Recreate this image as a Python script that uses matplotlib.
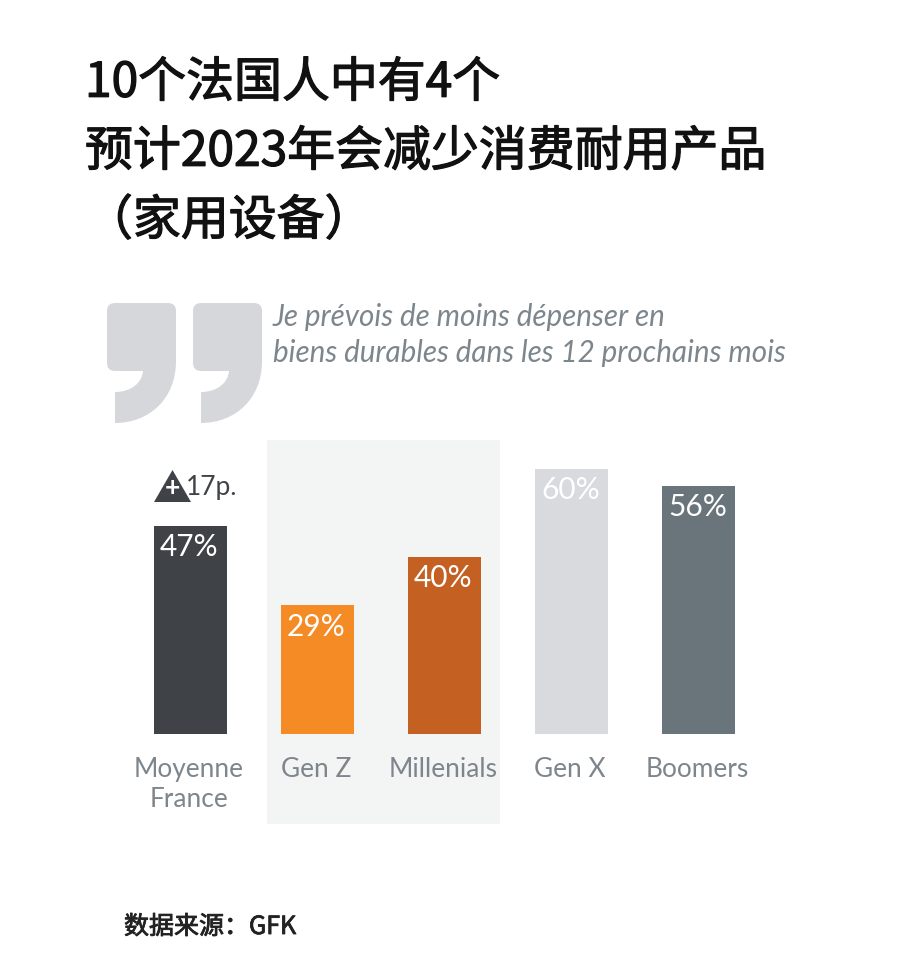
import matplotlib
matplotlib.use("Agg")
import matplotlib.pyplot as plt
import matplotlib.patches as mpatches
import matplotlib.patheffects as pe
from matplotlib.path import Path

plt.rcParams['font.family'] = ['Noto Sans CJK SC', 'DejaVu Sans']

# data
CATEGORIES = ["Moyenne\nFrance", "Gen Z", "Millenials", "Gen X", "Boomers"]
VALUES = [47, 29, 40, 60, 56]
BAR_COLORS = ["#3f4347", "#f58b25", "#c46022", "#d8dadd", "#6a747b"]
TITLE_LINES = ["10个法国人中有4个", "预计2023年会减少消费耐用产品", "（家用设备）"]
QUOTE_LINES = ["Je prévois de moins dépenser en", "biens durables dans les 12 prochains mois"]
SOURCE = "数据来源：GFK"

W, H = 900, 979
fig = plt.figure(figsize=(W / 100, H / 100), dpi=100, facecolor="white")

# full-figure overlay in pixel coords for text and decorations
bg = fig.add_axes([0, 0, 1, 1])
bg.set_xlim(0, W)
bg.set_ylim(H, 0)
bg.axis("off")

bg.add_patch(mpatches.Rectangle((267, 441), 233, 384, fc="#f3f4f4", ec="none"))

# the reference weight sits between regular and bold, so thicken regular a bit
for y, line in zip([84, 153, 222], TITLE_LINES):
    bg.text(85, y, line, fontsize=34.5, color="#111111", va="center", ha="left",
            path_effects=[pe.withStroke(linewidth=0.9, foreground="#111111")])


def quote_mark(x0):
    # one closing quote, rounded block with a curved tail
    verts = [
        (x0 + 8, 304), (x0 + 61, 304), (x0 + 69, 304), (x0 + 69, 312),
        (x0 + 69, 362), (x0 + 69, 400), (x0 + 42, 424), (x0 + 8, 424),
        (x0 + 8, 393), (x0 + 24, 393), (x0 + 35, 384), (x0 + 36, 372),
        (x0 + 8, 372), (x0, 372), (x0, 364),
        (x0, 312), (x0, 304), (x0 + 8, 304),
    ]
    codes = [
        Path.MOVETO, Path.LINETO, Path.CURVE3, Path.CURVE3,
        Path.LINETO, Path.CURVE4, Path.CURVE4, Path.CURVE4,
        Path.LINETO, Path.CURVE4, Path.CURVE4, Path.CURVE4,
        Path.LINETO, Path.CURVE3, Path.CURVE3,
        Path.LINETO, Path.CURVE3, Path.CURVE3,
    ]
    bg.add_patch(mpatches.PathPatch(Path(verts, codes), fc="#d6d7da", ec="none"))


quote_mark(107)
quote_mark(193)

for y, line in zip([317, 353], QUOTE_LINES):
    bg.text(273, y, line, family="Lato", fontsize=21.3, style="italic", color="#7d868c", va="center", ha="left")

bg.text(124, 928, SOURCE, fontsize=18, color="#222222", va="center", ha="left",
        path_effects=[pe.withStroke(linewidth=0.6, foreground="#222222")])

# bar chart; y scale: 60% -> 265 px tall, baseline at y=734
ax = fig.add_axes([135.6 / W, 1 - 734.5 / H, 614.5 / W, 265 / H])
ax.patch.set_alpha(0)
xs = list(range(len(VALUES)))
bars = ax.bar(xs, VALUES, width=0.575, color=BAR_COLORS)
ax.set_xlim(-0.43, 4.41)
ax.set_ylim(0, 60)
ax.axis("off")

for x, v in zip(xs, VALUES):
    ax.annotate(f"{v}%", (x, v), xytext=(-0.5, -4.5), textcoords="offset points", ha="center", va="top",
                family="Lato", fontsize=21.5, color="white")

for x, name in zip(xs, CATEGORIES):
    ax.annotate(name, (x, 0), xytext=(-0.8, -16.5), textcoords="offset points", ha="center", va="top",
                family="Lato", fontsize=18.9, color="#7d868c", linespacing=1.25,
                annotation_clip=False)

# +17p. badge above the first bar
bg.add_patch(mpatches.Polygon([(154, 503), (191, 503), (172.5, 471)], closed=True, fc="#3f4347", ec="none"))
bg.text(172.5, 488, "+", family="Lato", fontsize=19, fontweight="bold", color="white", ha="center", va="center")
bg.text(186, 488, "17p.", family="Lato", fontsize=19, color="#3f4347", ha="left", va="center")

fig.savefig("out.png", dpi=100, facecolor="white")
